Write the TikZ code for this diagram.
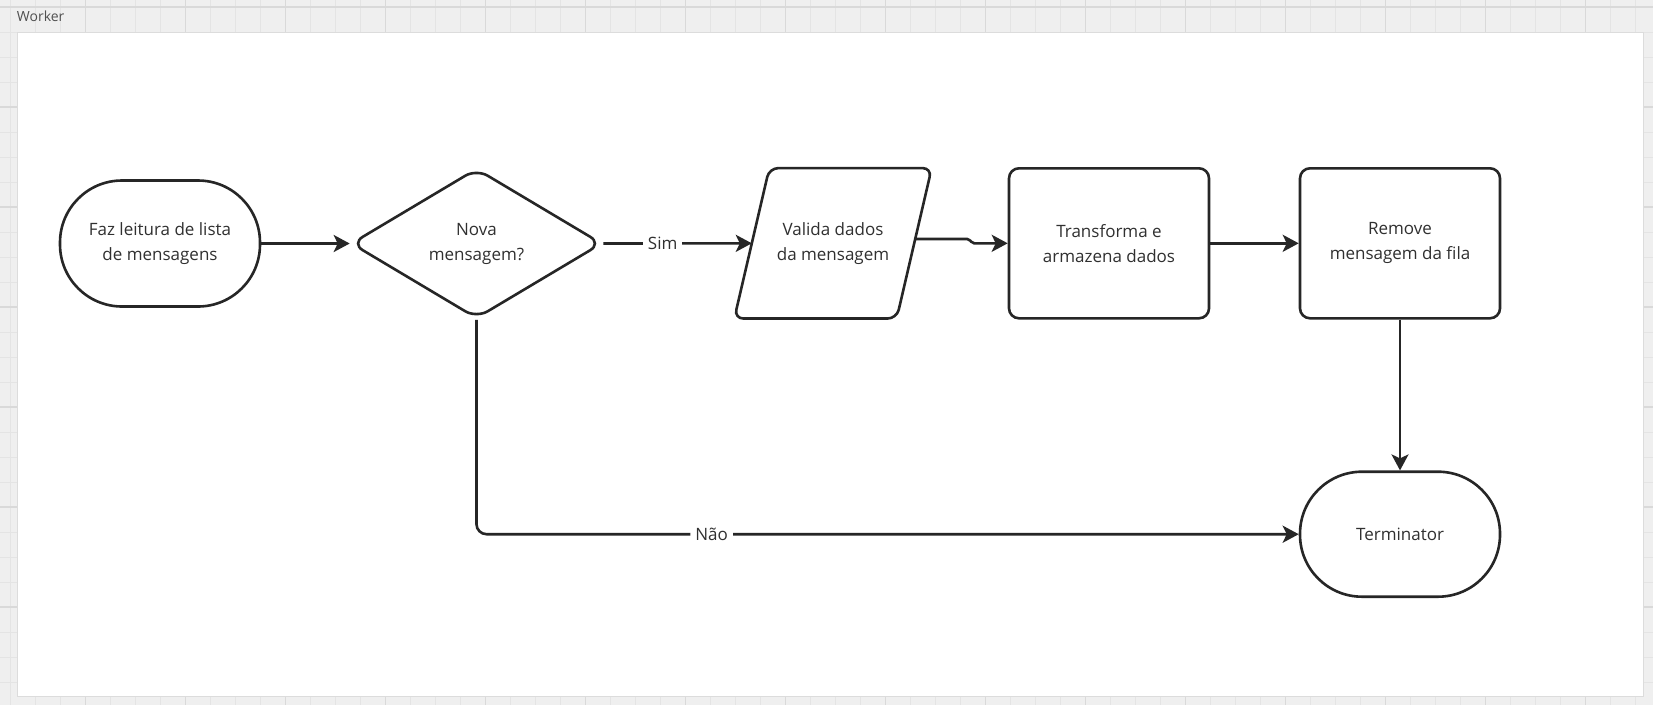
\documentclass[tikz,border=0pt]{standalone}
\usepackage{fontspec}
\setmainfont{Open Sans}
\usetikzlibrary{shapes.geometric,arrows.meta,calc}

\definecolor{gridbg}{HTML}{EFEFEF}
\definecolor{gridminor}{HTML}{E4E4E4}
\definecolor{gridmajor}{HTML}{D9D9D9}
\definecolor{framec}{HTML}{DCDCDC}
\definecolor{linec}{HTML}{262626}
\definecolor{textc}{HTML}{303030}
\definecolor{titlec}{HTML}{505050}

\tikzset{
  body/.style={font=\fontsize{17pt}{25pt}\selectfont, text=textc, align=center},
  outline/.style={draw=linec, line width=2.6pt},
  shapebase/.style={body, outline, fill=white, inner sep=0pt},
  termbox/.style={shapebase, rectangle, rounded corners=62pt,
    minimum width=200pt, minimum height=126pt},
  procbox/.style={shapebase, rectangle, rounded corners=10pt,
    minimum width=200pt, minimum height=150pt},
  decbox/.style={shapebase, diamond, aspect=1.673, rounded corners=13pt,
    minimum width=251pt, minimum height=150pt},
  iotext/.style={body, rectangle, inner sep=0pt,
    minimum width=162pt, minimum height=150pt},
  conn/.style={draw=linec, line width=2.6pt,
    -{Stealth[length=16pt,width=17pt,inset=4pt]}},
  lbl/.style={body, fill=white, inner sep=5pt}
}

\begin{document}
\begin{tikzpicture}[x=1pt, y=-1pt]
\useasboundingbox (0,0) rectangle (1653,705);

% canvas grid
\fill[gridbg] (0,0) rectangle (1653,705);
\foreach \gx in {10.7,35.7,...,1660} \draw[gridminor, line width=1pt] (\gx,0) -- (\gx,705);
\foreach \gy in {7,32,...,710} \draw[gridminor, line width=1pt] (0,\gy) -- (1653,\gy);
\foreach \gx in {85.7,185.7,...,1660} \draw[gridmajor, line width=1.2pt] (\gx,0) -- (\gx,705);
\foreach \gy in {7,107,...,710} \draw[gridmajor, line width=1.2pt] (0,\gy) -- (1653,\gy);

% frame
\draw[framec, fill=white, line width=1pt] (17,32) rectangle (1643,696);
\node[anchor=base west, inner sep=0pt, text=titlec,
      font=\fontsize{14pt}{16pt}\selectfont] (title) at (16.7,21.7) {Worker};

% flow nodes
\node[termbox] (start) at (160,243.5) {Faz leitura de lista\\de mensagens};
\node[decbox]  (dec)   at (476.5,243.5) {Nova\\mensagem?};
\node[iotext]  (val)   at (833,243.3) {Valida dados\\da mensagem};
\draw[outline, rounded corners=9pt]
  ($(val.north west)+(17.5,0)$) -- ($(val.north east)+(17.5,0)$) --
  ($(val.south east)+(-17.5,0)$) -- ($(val.south west)+(-17.5,0)$) -- cycle;
\node[procbox] (trf)   at (1109,243.3) {Transforma e\\armazena dados};
\node[procbox] (rem)   at (1400,243.3) {Remove\\mensagem da fila};
\node[termbox, minimum height=125pt] (stop) at (1400,534.2) {Terminator};

% connectors
\draw[conn] (start.east) -- (dec.west);
\draw[conn] (dec.east) -- node[lbl, pos=0.4] {Sim} (val.west);
\coordinate (valout) at ($(val.east)+(1,-4.3)$);
\draw[conn, rounded corners=2pt] (valout) -- ++(54,0) -- ++(3,4.3) -- (trf.west);
\draw[conn] (trf.east) -- (rem.west);
\draw[conn] (rem.south) -- (stop.north);
\draw[conn, rounded corners=10pt] (dec.south) |- node[lbl, pos=0.643] {Não} (stop.west);
\end{tikzpicture}
\end{document}
